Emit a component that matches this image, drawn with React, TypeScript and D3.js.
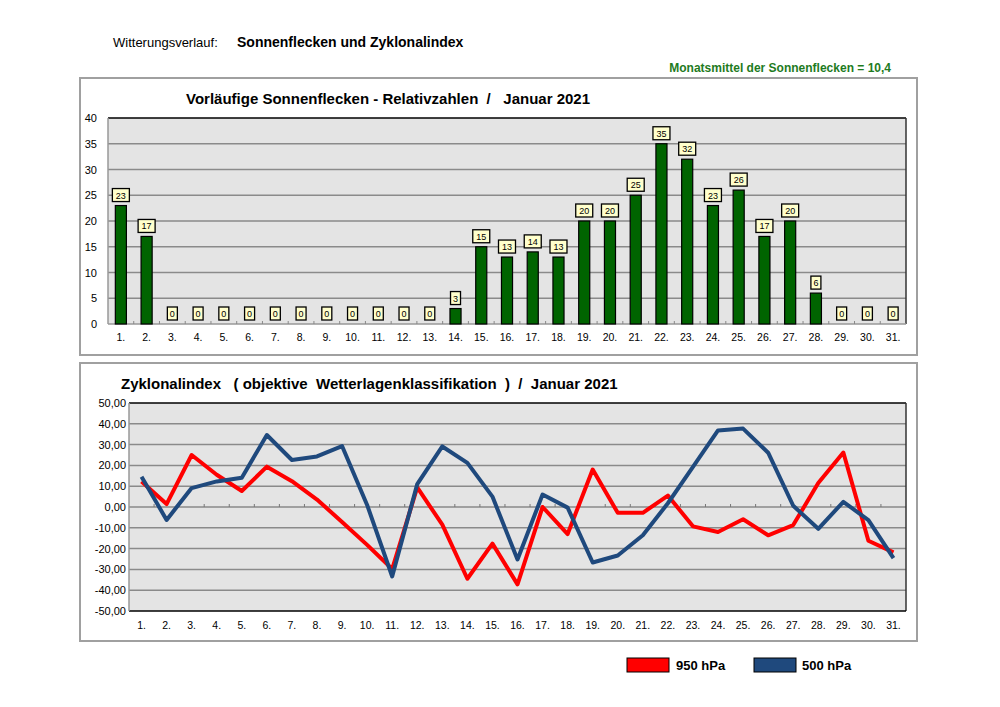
import React from "react";
import * as d3 from "d3";

const days = Array.from({ length: 31 }, (_, i) => `${i + 1}.`);
const sunspots = [23, 17, 0, 0, 0, 0, 0, 0, 0, 0, 0, 0, 0, 3, 15, 13, 14, 13, 20, 20, 25, 35, 32, 23, 26, 17, 20, 6, 0, 0, 0];
const hpa950 = [12.3, 1.4, 25, 15.5, 7.7, 19.4, 12.4, 3.6, -7.2, -18.2, -29.8, 9.4, -8.5, -34.5, -17.6, -37.2, 0, -13, 18, -2.8, -2.8, 5.5, -9.3, -12, -5.9, -13.6, -8.7, 11.5, 26.2, -16.2, -21.8];
const hpa500 = [14.6, -6.2, 9.1, 12.3, 14.1, 34.6, 22.6, 24.3, 29.3, 1, -33.4, 11, 29.1, 21.2, 5, -25.2, 6, -0.3, -26.7, -23.3, -13.6, 1.8, 19.3, 36.8, 37.7, 26.1, 0.6, -10.5, 2.5, -6.3, -24.6];
const sunTicks = [0, 5, 10, 15, 20, 25, 30, 35, 40];
const zyTicks = [-50, -40, -30, -20, -10, 0, 10, 20, 30, 40, 50];
const seriesNames = ["950 hPa", "500 hPa"];
const seriesColors = ["#ff0000", "#1f497d"];

const FONT = "'Liberation Sans', Arial, sans-serif";

export default function App() {
  // Top chart
  const tL = 108, tR = 906, tT = 118, tB = 324;
  const xb = d3.scaleBand<string>().domain(days).range([tL, tR]).paddingInner(0.57).paddingOuter(0.285);
  const ys = d3.scaleLinear().domain([0, 40]).range([tB, tT]);
  const stepT = xb.step();

  // Bottom chart
  const bL = 129, bR = 906, bT = 403, bB = 611;
  const xp = d3.scalePoint<string>().domain(days).range([bL, bR]).padding(0.5);
  const yz = d3.scaleLinear().domain([-50, 50]).range([bB, bT]);
  const stepB = xp.step();
  const line = d3
    .line<number>()
    .x((_, i) => xp(days[i]) as number)
    .y((d) => yz(d));

  const mean = d3.mean(sunspots) as number;
  const meanStr = mean.toFixed(1).replace(".", ",");

  return (
    <svg width={1000} height={707} style={{ position: "absolute", left: 0, top: 0, background: "#fff" }} fontFamily={FONT}>
      <rect x={0} y={0} width={1000} height={707} fill="#fff" />
      {/* Header */}
      <text x={113} y={47} fontSize={13} fill="#000">Witterungsverlauf:</text>
      <text x={237} y={47} fontSize={14} fontWeight="bold" fill="#000">Sonnenflecken und Zyklonalindex</text>
      <text x={891} y={72} fontSize={12} fontWeight="bold" fill="#1e7b1e" textAnchor="end">
        {`Monatsmittel der Sonnenflecken = ${meanStr}`}
      </text>

      {/* Top chart box */}
      <rect x={80} y={78} width={837} height={277} fill="#fff" stroke="#a0a0a0" strokeWidth={2} />
      <text x={186} y={104} fontSize={15} fontWeight="bold" fill="#000" style={{ whiteSpace: "pre" }}>
        {"Vorläufige Sonnenflecken - Relativzahlen  /   Januar 2021"}
      </text>
      <rect x={tL} y={tT} width={tR - tL} height={tB - tT} fill="#e4e4e4" />
      {sunTicks.map((t) => (
        <g key={t}>
          {t > 0 && t < 40 && <line x1={tL} x2={tR} y1={ys(t)} y2={ys(t)} stroke="#8a8a8a" strokeWidth={1.5} />}
          <text x={97} y={ys(t) + 4} fontSize={11} textAnchor="end" fill="#000">{t}</text>
        </g>
      ))}
      <line x1={tL} x2={tR} y1={tT} y2={tT} stroke="#000" strokeWidth={1.5} />
      <line x1={tR} x2={tR} y1={tT} y2={tB} stroke="#333" strokeWidth={1.5} />
      <line x1={tL} x2={tL} y1={tT} y2={tB} stroke="#999" strokeWidth={1.5} />
      <line x1={tL} x2={tR} y1={tB} y2={tB} stroke="#999" strokeWidth={1.5} />
      {days.slice(1).map((d, i) => (
        <line key={d} x1={tL + (i + 1) * stepT} x2={tL + (i + 1) * stepT} y1={tB} y2={tB - 3} stroke="#888" strokeWidth={1} />
      ))}
      {sunspots.map((v, i) => {
        const x = xb(days[i]) as number;
        const w = xb.bandwidth();
        const cx = x + w / 2;
        const label = String(v);
        const bw = label.length === 1 ? 10 : 17;
        const by = ys(v) - 4 - 13;
        return (
          <g key={i}>
            {v > 0 && <rect x={x} y={ys(v)} width={w} height={tB - ys(v)} fill="#006400" stroke="#000" strokeWidth={1.2} />}
            <rect x={cx - bw / 2} y={by} width={bw} height={13} fill="#ffffcc" stroke="#000" strokeWidth={1.3} />
            <text x={cx} y={by + 10} fontSize={9} textAnchor="middle" fill="#000">{label}</text>
            <text x={cx} y={341} fontSize={10.5} textAnchor="middle" fill="#000">{days[i]}</text>
          </g>
        );
      })}

      {/* Bottom chart box */}
      <rect x={80} y={363} width={837} height={278} fill="#fff" stroke="#a0a0a0" strokeWidth={2} />
      <text x={121} y={389} fontSize={15} fontWeight="bold" fill="#000" style={{ whiteSpace: "pre" }}>
        {"Zyklonalindex   ( objektive  Wetterlagenklassifikation  )  /  Januar 2021"}
      </text>
      <rect x={bL} y={bT} width={bR - bL} height={bB - bT} fill="#e4e4e4" />
      {zyTicks.map((t) => (
        <g key={t}>
          {t > -50 && t < 50 && <line x1={bL} x2={bR} y1={yz(t)} y2={yz(t)} stroke="#8a8a8a" strokeWidth={1.5} />}
          <text x={126} y={yz(t) + 4} fontSize={11} textAnchor="end" fill="#000">{t.toFixed(2).replace(".", ",")}</text>
        </g>
      ))}
      <line x1={bL} x2={bR} y1={bT} y2={bT} stroke="#000" strokeWidth={1.5} />
      <line x1={bR} x2={bR} y1={bT} y2={bB} stroke="#333" strokeWidth={1.5} />
      <line x1={bL} x2={bR} y1={bB} y2={bB} stroke="#000" strokeWidth={1.5} />
      <line x1={bL} x2={bL} y1={bT} y2={bB} stroke="#999" strokeWidth={1.5} />
      {days.slice(1).map((d, i) => (
        <line key={d} x1={bL + (i + 1) * stepB} x2={bL + (i + 1) * stepB} y1={yz(0)} y2={yz(0) - 3} stroke="#777" strokeWidth={1} />
      ))}
      {days.map((d) => (
        <text key={d} x={xp(d) as number} y={629} fontSize={10.5} textAnchor="middle" fill="#000">{d}</text>
      ))}
      <path d={line(hpa950) as string} fill="none" stroke={seriesColors[0]} strokeWidth={4} strokeLinejoin="round" />
      <path d={line(hpa500) as string} fill="none" stroke={seriesColors[1]} strokeWidth={4} strokeLinejoin="round" />

      {/* Legend */}
      {seriesNames.map((n, i) => (
        <g key={n}>
          <rect x={627 + i * 127} y={658} width={42} height={14} fill={seriesColors[i]} stroke="#000" strokeWidth={1} />
          <text x={676 + i * 126} y={670} fontSize={13} fontWeight="bold" fill="#000">{n}</text>
        </g>
      ))}
    </svg>
  );
}
